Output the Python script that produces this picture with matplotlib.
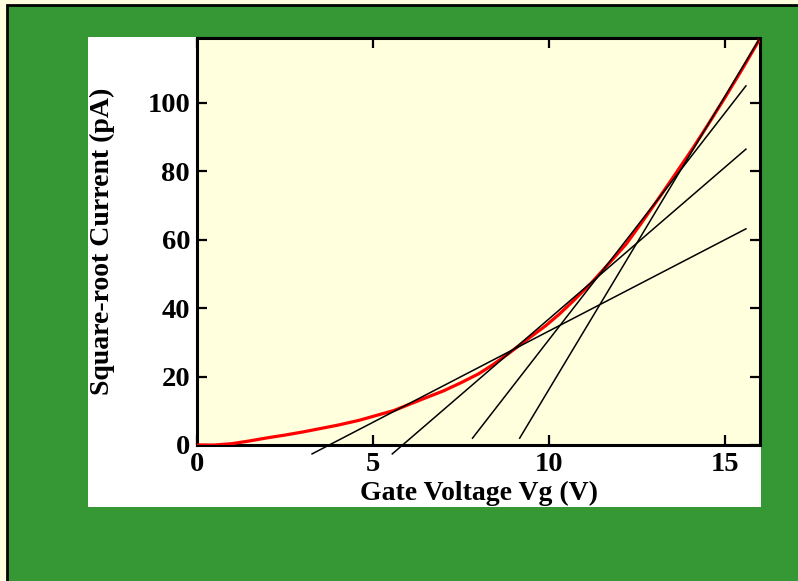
import numpy as np
import matplotlib
matplotlib.use('Agg')
import matplotlib.pyplot as plt
from matplotlib.patches import Rectangle

vg = [0, 0.5, 1, 1.5, 2, 2.5, 3, 3.5, 4, 4.6, 5.6, 6.5, 7.0, 7.5, 8.0, 8.4, 8.9, 9.4, 9.9,
      10.3, 10.7, 11.2, 11.7, 12.2, 12.6, 13.1, 13.6, 14.1, 14.5, 15.0, 15.5, 16.0]
sqrt_i = [0, 0, 0.4, 1.2, 2.1, 2.9, 3.8, 4.8, 5.8, 7.2, 10.1, 13.8, 15.8, 18.2, 20.8, 23.4,
          27.1, 31.0, 34.8, 38.3, 42.2, 47.3, 53.0, 58.8, 64.5, 71.8, 79.3, 86.9, 93.3,
          101.5, 110.0, 118.8]

# straight fit lines (start / end points)
fit_x0 = [3.27, 5.55, 7.83, 9.17]
fit_y0 = [-2.6, -2.6, 2.0, 2.0]
fit_x1 = [15.6, 15.6, 15.6, 16.0]
fit_y1 = [63.2, 86.5, 105.0, 119.0]

xticks = [0, 5, 10, 15]
yticks = [0, 20, 40, 60, 80, 100]

green = '#359835'
cream = '#FFFFDD'

fig = plt.figure(figsize=(7.98, 5.81), dpi=100)
fig.patch.set_facecolor(cream)

# green panel with black edge (top/left visible), white plot card
fig.patches.append(Rectangle((7/798, -0.1), 1.1, 1 - 5/581 + 0.1, transform=fig.transFigure,
                             facecolor=green, edgecolor='black', lw=2.0, zorder=-2))
fig.patches.append(Rectangle((88/798, 1 - 507/581), (761-88)/798, (507-37)/581,
                             transform=fig.transFigure, facecolor='white', edgecolor='none', zorder=-1))

ax = fig.add_axes([197/798, 1 - 445/581, (760-197)/798, (445-38)/581])
ax.set_zorder(5)
ax.set_facecolor(cream)

ax.plot(vg, sqrt_i, color='red', lw=2.3, zorder=3)
for i in range(len(fit_x0)):
    ax.plot([fit_x0[i], fit_x1[i]], [fit_y0[i], fit_y1[i]], color='black', lw=1.1,
            clip_on=False, zorder=4)

ax.set_xlim(0, 16)
ax.set_ylim(0, 119)
ax.set_xticks(xticks)
ax.set_yticks(yticks)

font = {'family': 'Liberation Serif', 'weight': 'bold'}
ax.set_xticklabels([str(t) for t in xticks], fontdict=font, fontsize=20.5)
ax.set_yticklabels([str(t) for t in yticks], fontdict=font, fontsize=20.5)
ax.tick_params(direction='in', length=7, width=1.6, top=True, right=True)
ax.tick_params(axis='y', pad=5)
ax.tick_params(axis='x', pad=5)
for s in ax.spines.values():
    s.set_linewidth(2.2)

ax.set_xlabel('Gate Voltage Vg (V)', fontdict=font, fontsize=20, labelpad=3)
ax.set_ylabel('Square-root Current (pA)', fontdict=font, fontsize=20, labelpad=23)

plt.savefig('out.png', dpi=100, facecolor=fig.get_facecolor())
